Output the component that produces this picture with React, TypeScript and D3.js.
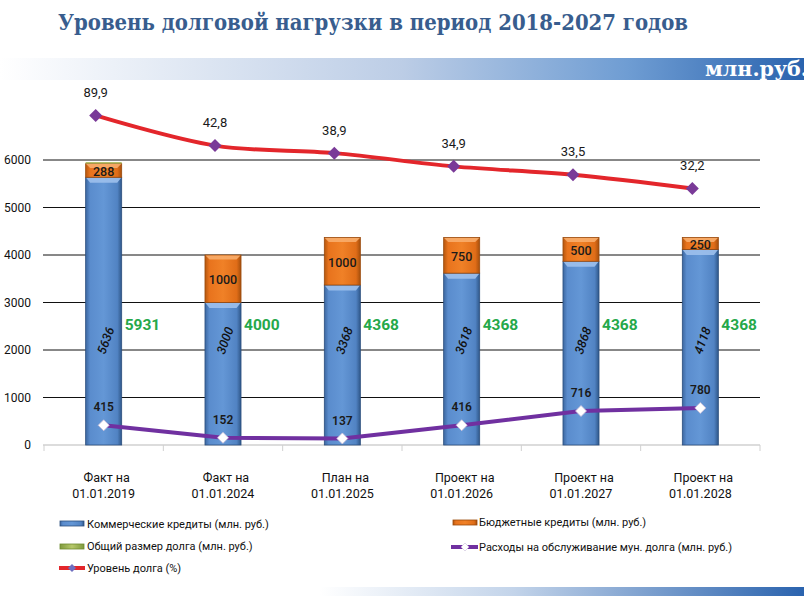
import React from 'react';
import * as d3 from 'd3';

// ---------- DATA ----------
const categoryTop = ['Факт на', 'Факт на', 'План на', 'Проект на', 'Проект на', 'Проект на'];
const categoryBottom = ['01.01.2019', '01.01.2024', '01.01.2025', '01.01.2026', '01.01.2027', '01.01.2028'];
const commercial = [5636, 3000, 3368, 3618, 3868, 4118];
const budget = [288, 1000, 1000, 750, 500, 250];
const totalDebt = [5931, 4000, 4368, 4368, 4368, 4368];
const serviceCost = [415, 152, 137, 416, 716, 780];
const debtLevel = [89.9, 42.8, 38.9, 34.9, 33.5, 32.2];
const yTicks = [0, 1000, 2000, 3000, 4000, 5000, 6000];
const legendLeft = ['Коммерческие кредиты (млн. руб.)', 'Общий размер долга (млн. руб.)', 'Уровень долга (%)'];
const legendRight = ['Бюджетные кредиты (млн. руб.)', 'Расходы на обслуживание мун. долга (млн. руб.)'];
const title = 'Уровень долговой нагрузки в период 2018-2027 годов';
const unitLabel = 'млн.руб.';

const W = 804;
const H = 596;
const FONT = "Roboto, 'Noto Sans', sans-serif";
const SERIF = "'DejaVu Serif Condensed', 'DejaVu Serif', 'Liberation Serif', serif";

const diamond = (r: number) => `M0,${-r}L${r},0L0,${r}L${-r},0Z`;
const fmtPct = (v: number) => d3.format('.1f')(v).replace('.', ',');

export default function App() {
  const idx = categoryBottom.map((_, i) => String(i));
  const x = d3.scaleBand<string>().domain(idx).range([44, 760]).paddingInner(0.698).paddingOuter(0.349);
  const y = d3.scaleLinear().domain([0, 6000]).range([445, 160]);
  const bw = x.bandwidth();
  const cx = (i: number) => (x(String(i)) as number) + bw / 2;
  // secondary (hidden) axis for debt level (%)
  const levelOffset = 31;
  const y2 = d3.scaleLog().domain([1, 60]).range([191.9, 115.1]);
  const ly = (v: number) => y2(v - levelOffset);
  const lineShift = -8;

  const redLine = d3.line<number>()
    .x((_, i) => cx(i) + lineShift)
    .y((v) => ly(v))
    .curve(d3.curveCatmullRom.alpha(0.5));
  const purpleLine = d3.line<number>()
    .x((_, i) => cx(i))
    .y((v) => y(v));

  const bevel = (x0: number, yTop: number, w: number, h: number) =>
    `M${x0},${yTop}L${x0 + w},${yTop}L${x0 + w - 4},${yTop + h}L${x0 + 4},${yTop + h}Z`;

  const labelLevel = 2200;

  return (
    <div style={{ position: 'absolute', left: 0, top: 0, width: W, height: H, background: '#fff' }}>
      <svg width={W} height={H} viewBox={`0 0 ${W} ${H}`} style={{ display: 'block' }}>
        <defs>
          <linearGradient id="hdr" x1="0" x2="1" y1="0" y2="0">
            <stop offset="0" stopColor="#ffffff" />
            <stop offset="0.5" stopColor="#bccde6" />
            <stop offset="0.78" stopColor="#6f9dd3" />
            <stop offset="1" stopColor="#2a63ae" />
          </linearGradient>
          <linearGradient id="ftr" x1="0" x2="1" y1="0" y2="0">
            <stop offset="0" stopColor="#ffffff" />
            <stop offset="0.4" stopColor="#c3d4ea" />
            <stop offset="1" stopColor="#2a63ae" />
          </linearGradient>
          <linearGradient id="blueG" x1="0" x2="1" y1="0" y2="0">
            <stop offset="0" stopColor="#3c67a0" />
            <stop offset="0.12" stopColor="#5a8ccd" />
            <stop offset="0.5" stopColor="#6497d6" />
            <stop offset="0.88" stopColor="#5183c3" />
            <stop offset="1" stopColor="#2f5789" />
          </linearGradient>
          <linearGradient id="orangeG" x1="0" x2="1" y1="0" y2="0">
            <stop offset="0" stopColor="#b5570f" />
            <stop offset="0.12" stopColor="#e8731d" />
            <stop offset="0.5" stopColor="#f08127" />
            <stop offset="0.88" stopColor="#e06d18" />
            <stop offset="1" stopColor="#a64f0c" />
          </linearGradient>
          <linearGradient id="greenG" x1="0" x2="1" y1="0" y2="0">
            <stop offset="0" stopColor="#7f9a3e" />
            <stop offset="0.5" stopColor="#b6c86a" />
            <stop offset="1" stopColor="#7f9a3e" />
          </linearGradient>
        </defs>

        {/* header */}
        <text x={58} y={30} fontFamily={SERIF} fontWeight="bold" fontSize={22} fill="#385d8e"
          textLength={630} lengthAdjust="spacingAndGlyphs">{title}</text>
        <rect x={0} y={58} width={W} height={22} fill="url(#hdr)" />
        <text x={705} y={76} fontFamily={SERIF} fontWeight="bold" fontSize={21} fill="#ffffff"
          textLength={103} lengthAdjust="spacingAndGlyphs">{unitLabel}</text>
        <rect x={320} y={587} width={W - 320} height={9} fill="url(#ftr)" />

        {/* y axis grid + labels */}
        {yTicks.map((t) => (
          <g key={t}>
            {t > 0 && <line x1={43} x2={760} y1={y(t)} y2={y(t)} stroke="#111" strokeWidth={1} />}
            <text x={31} y={y(t)} dy="0.35em" textAnchor="end" fontFamily={FONT} fontSize={12} fill="#111">{t}</text>
          </g>
        ))}
        {/* x axis */}
        <line x1={43} x2={760} y1={y(0)} y2={y(0)} stroke="#d0d0d0" strokeWidth={1.5} />
        {d3.range(categoryBottom.length + 1).map((i) => {
          const xx = 44 + i * x.step();
          return <line key={i} x1={xx} x2={xx} y1={y(0)} y2={y(0) + 6} stroke="#d0d0d0" strokeWidth={1} />;
        })}
        {categoryBottom.map((c, i) => (
          <text key={c} x={cx(i)} textAnchor="middle" fontFamily={FONT} fontSize={12.5} fill="#111">
            <tspan x={cx(i) + 3} y={482}>{categoryTop[i]}</tspan>
            <tspan x={cx(i)} y={498}>{c}</tspan>
          </text>
        ))}

        {/* bars */}
        {commercial.map((v, i) => {
          const x0 = x(String(i)) as number;
          const yb = y(v);
          const yo = y(v + budget[i]);
          const extra = totalDebt[i] - v - budget[i];
          const yg = y(v + budget[i] + extra);
          return (
            <g key={i}>
              <rect x={x0} y={yb} width={bw} height={y(0) - yb} fill="url(#blueG)" stroke="#2c4f7e" strokeWidth={0.8} />
              <path d={bevel(x0 + 0.5, yb + 0.5, bw - 1, 5)} fill="#9dc0ec" opacity={0.9} />
              <rect x={x0} y={yo} width={bw} height={yb - yo} fill="url(#orangeG)" stroke="#9a4a0c" strokeWidth={0.8} />
              <path d={bevel(x0 + 0.5, yo + 0.5, bw - 1, 4)} fill="#f8ad6b" opacity={0.9} />
              {extra > 0 && (
                <rect x={x0} y={Math.min(yg, yo - 1.5)} width={bw} height={Math.max(yo - yg, 1.5)} fill="#a9b85a" />
              )}
            </g>
          );
        })}

        {/* bar labels */}
        {commercial.map((v, i) => (
          <text key={'c' + i} transform={`translate(${cx(i) + 2},${y(labelLevel)}) rotate(-70)`}
            textAnchor="middle" dy="0.35em" fontFamily={FONT} fontStyle="italic" fontWeight={500} fontSize={12.5} fill="#111">{v}</text>
        ))}
        {budget.map((b, i) => (
          <text key={'b' + i} x={cx(i)} y={(y(commercial[i]) + y(commercial[i] + b)) / 2 + 1} dy="0.35em"
            textAnchor="middle" fontFamily={FONT} fontWeight={500} fontSize={12.5} fill="#1a1a1a">{b}</text>
        ))}
        {totalDebt.map((t, i) => (
          <text key={'t' + i} x={(x(String(i)) as number) + bw + 3} y={325} dy="0.35em"
            fontFamily={FONT} fontWeight="bold" fontSize={15.5} fill="#25a84a">{t}</text>
        ))}

        {/* service cost line */}
        <path d={purpleLine(serviceCost) as string} fill="none" stroke="#7030a0" strokeWidth={4} strokeLinejoin="round" />
        {serviceCost.map((v, i) => (
          <g key={'s' + i}>
            <path d={diamond(5.5)} transform={`translate(${cx(i)},${y(v)})`} fill="#ffffff" stroke="#c9bcd8" strokeWidth={0.8} />
            <text x={cx(i)} y={y(v) - 18} dy="0.35em" textAnchor="middle" fontFamily={FONT} fontWeight={600} fontSize={12} fill="#1a1a1a">{v}</text>
          </g>
        ))}

        {/* debt level line */}
        <path d={redLine(debtLevel) as string} fill="none" stroke="#e3262b" strokeWidth={4} strokeLinecap="round" />
        {debtLevel.map((v, i) => (
          <g key={'l' + i}>
            <path d={diamond(6.5)} transform={`translate(${cx(i) + lineShift},${ly(v)})`} fill="#7a3a98" />
            <text x={cx(i) + lineShift} y={ly(v) - 23} dy="0.35em" textAnchor="middle" fontFamily={FONT} fontSize={13} fill="#1a1a1a">{fmtPct(v)}</text>
          </g>
        ))}

        {/* legend */}
        <g fontFamily={FONT} fontSize={11} fill="#111">
          {/* left column */}
          <rect x={60} y={521} width={24} height={5} fill="url(#blueG)" stroke="#2c4f7e" strokeWidth={0.8} />
          <text x={87} y={524} dy="0.35em">{legendLeft[0]}</text>
          <rect x={60} y={544} width={24} height={5} fill="url(#greenG)" stroke="#6e8a2f" strokeWidth={0.8} />
          <text x={87} y={546} dy="0.35em">{legendLeft[1]}</text>
          <line x1={59} x2={85} y1={568} y2={568} stroke="#e3262b" strokeWidth={4} />
          <path d={diamond(4)} transform="translate(72,568)" fill="#6f6fc0" />
          <text x={87} y={568} dy="0.35em">{legendLeft[2]}</text>
          {/* right column */}
          <rect x={453} y={520} width={24} height={5} fill="url(#orangeG)" stroke="#9a4a0c" strokeWidth={0.8} />
          <text x={479} y={522} dy="0.35em">{legendRight[0]}</text>
          <line x1={451} x2={478} y1={547} y2={547} stroke="#7030a0" strokeWidth={4} />
          <path d={diamond(4)} transform="translate(465,547)" fill="#ffffff" stroke="#c9bcd8" strokeWidth={0.6} />
          <text x={479} y={547} dy="0.35em">{legendRight[1]}</text>
        </g>
      </svg>
    </div>
  );
}
